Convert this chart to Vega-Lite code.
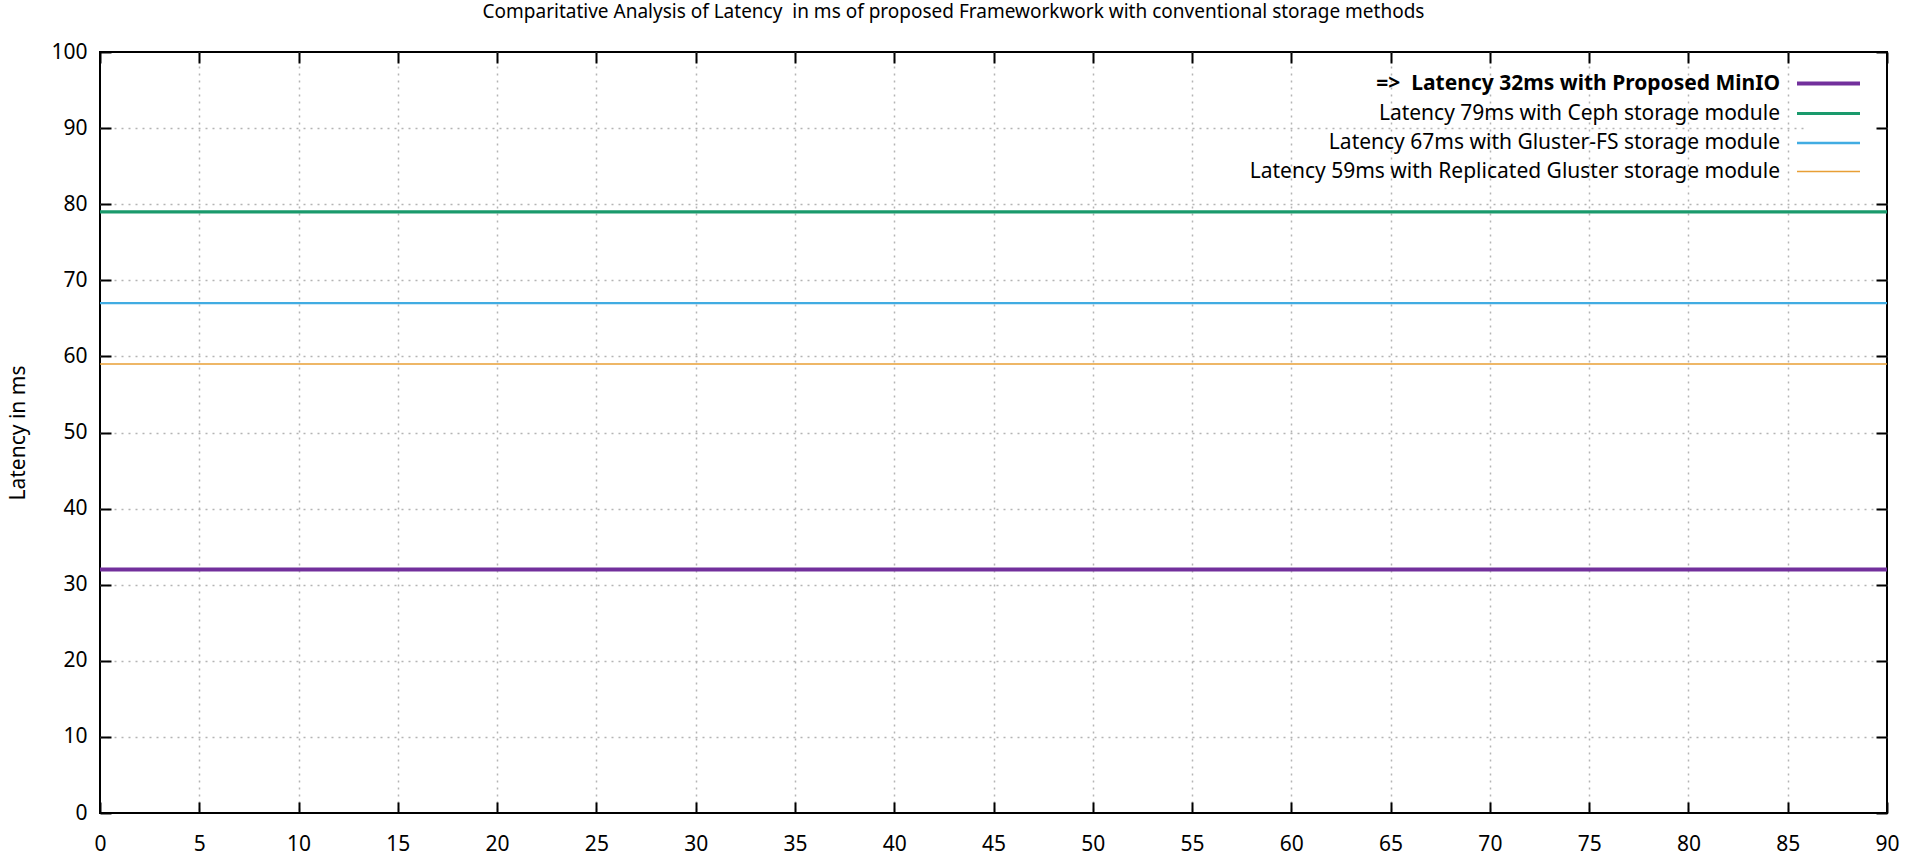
{
  "$schema": "https://vega.github.io/schema/vega-lite/v6.json",
  "width": 1787,
  "height": 761,
  "autosize": {"type": "none"},
  "padding": {"left": 100, "top": 52, "right": 18, "bottom": 40},
  "background": "white",
  "config": {
    "font": "Noto Sans",
    "view": {"stroke": "black", "strokeWidth": 2},
    "axis": {
      "domain": false,
      "tickColor": "black",
      "tickWidth": 2,
      "tickSize": -11,
      "labelFont": "Noto Sans",
      "labelFontSize": 21,
      "labelColor": "black",
      "titleFont": "Noto Sans",
      "titleFontSize": 21,
      "titleFontWeight": "normal",
      "titleColor": "black",
      "gridColor": "#b4b4b4",
      "gridDash": [2, 5],
      "gridWidth": 1.5
    }
  },
  "title": {
    "text": "Comparitative Analysis of Latency\u00a0 in ms of proposed Frameworkwork with conventional storage methods",
    "font": "Noto Sans",
    "fontSize": 19,
    "fontWeight": "normal",
    "color": "black",
    "anchor": "middle",
    "frame": "bounds",
    "offset": 19
  },
  "data": {
    "values": [
      {"series": "=>\u00a0 Latency 32ms with Proposed MinIO", "x": 0, "latency": 32},
      {"series": "=>\u00a0 Latency 32ms with Proposed MinIO", "x": 90, "latency": 32},
      {"series": "Latency 79ms with Ceph storage module", "x": 0, "latency": 79},
      {"series": "Latency 79ms with Ceph storage module", "x": 90, "latency": 79},
      {"series": "Latency 67ms with Gluster-FS storage module", "x": 0, "latency": 67},
      {"series": "Latency 67ms with Gluster-FS storage module", "x": 90, "latency": 67},
      {"series": "Latency 59ms with Replicated Gluster storage module", "x": 0, "latency": 59},
      {"series": "Latency 59ms with Replicated Gluster storage module", "x": 90, "latency": 59}
    ]
  },
  "layer": [
    {
      "mark": {"type": "line", "clip": true},
      "encoding": {
        "x": {
          "field": "x", "type": "quantitative",
          "scale": {"domain": [0, 90], "nice": false, "zero": false},
          "axis": {"orient": "bottom", "values": [0,5,10,15,20,25,30,35,40,45,50,55,60,65,70,75,80,85,90], "grid": true, "title": null, "labelPadding": 31, "labelFlush": false,
                   "gridOpacity": {"condition": {"test": "datum.value == 0 || datum.value == 90", "value": 0}, "value": 1}}
        },
        "y": {
          "field": "latency", "type": "quantitative",
          "scale": {"domain": [0, 100], "nice": false},
          "axis": {"orient": "left", "values": [0,10,20,30,40,50,60,70,80,90,100], "grid": true, "title": "Latency in ms", "labelPadding": 24, "titlePadding": 22, "labelFlush": false,
                   "gridOpacity": {"condition": {"test": "datum.value == 0 || datum.value == 100", "value": 0}, "value": 1}}
        },
        "color": {
          "field": "series", "type": "nominal",
          "scale": {
            "domain": ["=>\u00a0 Latency 32ms with Proposed MinIO", "Latency 79ms with Ceph storage module", "Latency 67ms with Gluster-FS storage module", "Latency 59ms with Replicated Gluster storage module"],
            "range": ["#72309c", "#1a9a6c", "#41ace2", "#e89f35"]
          },
          "legend": {
            "title": null,
            "orient": "top-right",
            "offset": 11,
            "fillColor": "white",
            "padding": 8,
            "symbolType": "M-3,0H3",
            "symbolSize": 441,
            "labelAlign": "right",
            "labelOffset": -61,
            "labelFont": "Noto Sans",
            "labelFontSize": 21,
            "labelColor": "black",
            "labelLimit": 0,
            "rowPadding": 7,
            "labelFontWeight": {"expr": "indexof(datum.label, 'MinIO') >= 0 ? 'bold' : 'normal'"}
          }
        },
        "strokeWidth": {
          "field": "series", "type": "nominal",
          "scale": {
            "domain": ["=>\u00a0 Latency 32ms with Proposed MinIO", "Latency 79ms with Ceph storage module", "Latency 67ms with Gluster-FS storage module", "Latency 59ms with Replicated Gluster storage module"],
            "range": [4, 1.5, 1.5, 1.5]
          },
          "legend": null
        }
      }
    },
    {
      "mark": {"type": "point", "opacity": 0},
      "encoding": {
        "x": {
          "field": "x", "type": "quantitative",
          "axis": {"orient": "top", "values": [0,5,10,15,20,25,30,35,40,45,50,55,60,65,70,75,80,85,90], "grid": false, "labels": false, "title": null}
        },
        "y": {
          "field": "latency", "type": "quantitative",
          "axis": {"orient": "right", "values": [0,10,20,30,40,50,60,70,80,90,100], "grid": false, "labels": false, "title": null}
        }
      }
    }
  ],
  "resolve": {"axis": {"x": "independent", "y": "independent"}}
}
